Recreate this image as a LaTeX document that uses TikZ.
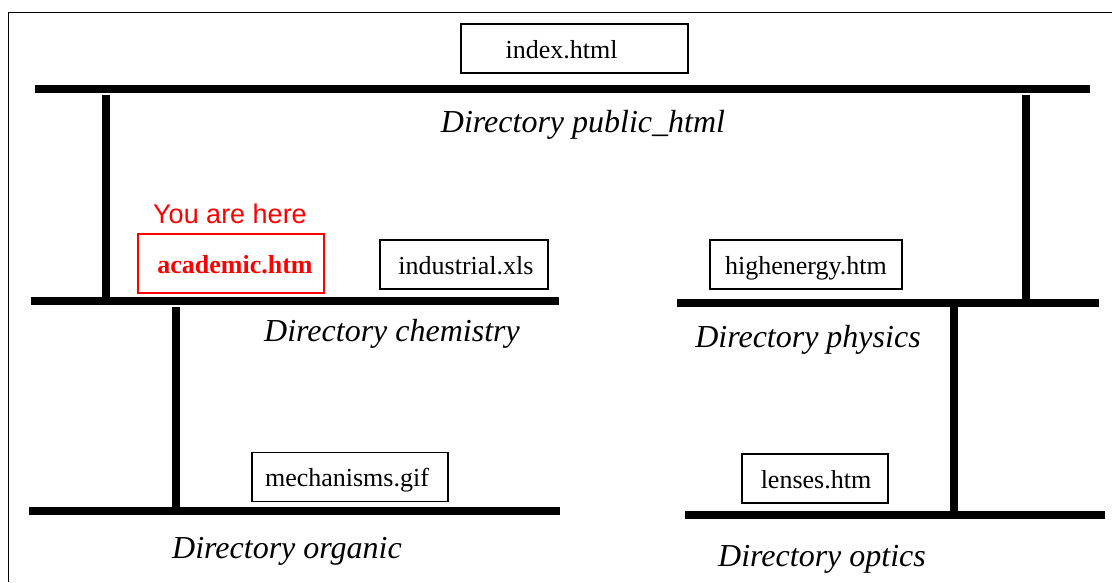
\documentclass[tikz,border=0pt]{standalone}
\usepackage{fontspec}
\setmainfont{Liberation Serif}
\newfontfamily\arialfont{Liberation Sans}
\begin{document}
\begin{tikzpicture}[x=1pt,y=-1pt,
  bar/.style={line width=8pt},
  vbar/.style={line width=8pt},
  filebox/.style={draw, line width=1.6pt, minimum height=49pt, inner sep=0pt, text height=20pt, text depth=1pt, font=\fontsize{26}{30}\selectfont},
  dirlabel/.style={font=\fontsize{32}{36}\selectfont\itshape, inner sep=0pt, text height=22pt, text depth=7pt},
  herebox/.style={filebox, draw=red, text=red, font=\fontsize{26}{30}\selectfont\bfseries}
]
\useasboundingbox (0,0) rectangle (1112,582);
% frame
\draw[line width=1.6pt] (8.5,582) -- (8.5,12.5) -- (1112,12.5);

% top directory
\node[filebox, minimum width=227pt] (index) at (574.5,48.5) {index.html\hspace*{26pt}};
\coordinate (topL) at (35,89);
\coordinate (topR) at (1090,89);
\draw[bar] (topL) -- (topR);
\node[dirlabel] (pubhtml) at (583,124.5) {Directory public\_html};

% chemistry
\coordinate (chemL) at (31,301);
\coordinate (chemR) at (559,301);
\draw[bar] (chemL) -- (chemR);
\coordinate (v1t) at (106,95);
\coordinate (v1b) at (106,297);
\draw[vbar] (v1t) -- (v1b);
\node[font=\arialfont\fontsize{27}{30}\selectfont, text=red, inner sep=0pt] (here) at (230,214) {You are here};
\node[herebox, minimum width=186pt, minimum height=59pt] (academic) at (231,263.5) {\hspace*{8pt}academic.htm};
\node[filebox, minimum width=168pt] (industrial) at (464,264.5) {\hspace*{4pt}industrial.xls};
\node[dirlabel] (chemistry) at (392,334) {Directory chemistry};

% physics
\coordinate (physL) at (677,303);
\coordinate (physR) at (1099,303);
\draw[bar] (physL) -- (physR);
\coordinate (v2t) at (1026,95);
\coordinate (v2b) at (1026,299);
\draw[vbar] (v2t) -- (v2b);
\node[filebox, minimum width=192pt] (highenergy) at (806,264.5) {highenergy.htm};
\node[dirlabel] (physics) at (808,340) {Directory physics};

% organic
\coordinate (orgL) at (29,511);
\coordinate (orgR) at (560,511);
\draw[bar] (orgL) -- (orgR);
\coordinate (v3t) at (176,307);
\coordinate (v3b) at (176,507);
\draw[vbar] (v3t) -- (v3b);
\node[filebox, minimum width=196pt] (mechanisms) at (350,477) {mechanisms.gif\hspace*{6pt}};
\node[dirlabel] (organic) at (287,551) {Directory organic};

% optics
\coordinate (optL) at (685,515);
\coordinate (optR) at (1105,515);
\draw[bar] (optL) -- (optR);
\coordinate (v4t) at (954,307);
\coordinate (v4b) at (954,511);
\draw[vbar] (v4t) -- (v4b);
\node[filebox, minimum width=146pt] (lenses) at (815,478.5) {\hspace*{2pt}lenses.htm};
\node[dirlabel] (optics) at (822,559) {Directory optics};
\end{tikzpicture}
\end{document}
